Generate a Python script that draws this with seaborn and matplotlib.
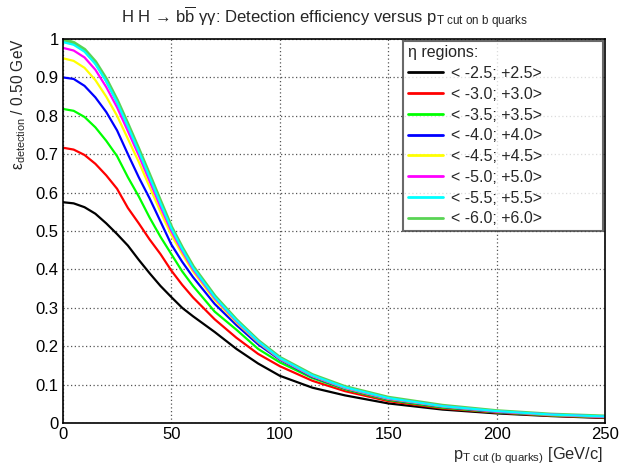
import numpy as np
import pandas as pd
import matplotlib
matplotlib.use("Agg")
import matplotlib.pyplot as plt
from matplotlib.ticker import MultipleLocator, FuncFormatter
import seaborn as sns

# ---- data ----
pt_cut = [0, 5, 10, 15, 20, 25, 30, 35, 40, 45, 50, 55, 60, 70, 80, 90, 100,
          115, 130, 150, 175, 200, 225, 250]

regions = ["< -2.5; +2.5>", "< -3.0; +3.0>", "< -3.5; +3.5>", "< -4.0; +4.0>",
           "< -4.5; +4.5>", "< -5.0; +5.0>", "< -5.5; +5.5>", "< -6.0; +6.0>"]

eff_25 = [0.575, 0.572, 0.562, 0.545, 0.520, 0.492, 0.462, 0.425, 0.390, 0.357, 0.328, 0.300,
          0.278, 0.237, 0.193, 0.155, 0.123, 0.092, 0.072, 0.051, 0.035, 0.025, 0.018, 0.013]
eff_30 = [0.717, 0.712, 0.698, 0.675, 0.645, 0.610, 0.560, 0.520, 0.478, 0.440, 0.397, 0.360,
          0.327, 0.270, 0.222, 0.180, 0.148, 0.110, 0.083, 0.057, 0.038, 0.027, 0.019, 0.014]
eff_35 = [0.818, 0.813, 0.797, 0.770, 0.735, 0.695, 0.640, 0.590, 0.535, 0.485, 0.440, 0.395,
          0.357, 0.290, 0.243, 0.193, 0.158, 0.117, 0.088, 0.060, 0.040, 0.028, 0.020, 0.015]
eff_40 = [0.900, 0.896, 0.878, 0.848, 0.810, 0.762, 0.700, 0.640, 0.585, 0.525, 0.465, 0.420,
          0.380, 0.310, 0.255, 0.205, 0.165, 0.120, 0.090, 0.062, 0.042, 0.029, 0.021, 0.016]
eff_45 = [0.950, 0.943, 0.925, 0.893, 0.850, 0.800, 0.740, 0.680, 0.615, 0.550, 0.490, 0.440,
          0.395, 0.320, 0.262, 0.210, 0.167, 0.122, 0.091, 0.063, 0.043, 0.030, 0.021, 0.016]
eff_50 = [0.977, 0.970, 0.952, 0.920, 0.875, 0.822, 0.760, 0.697, 0.630, 0.563, 0.500, 0.448,
          0.400, 0.325, 0.265, 0.212, 0.168, 0.123, 0.092, 0.064, 0.044, 0.030, 0.022, 0.016]
eff_55 = [0.992, 0.985, 0.967, 0.935, 0.890, 0.835, 0.772, 0.707, 0.640, 0.572, 0.507, 0.453,
          0.404, 0.328, 0.267, 0.213, 0.169, 0.124, 0.093, 0.065, 0.044, 0.031, 0.022, 0.017]
eff_60 = [0.998, 0.990, 0.972, 0.940, 0.895, 0.840, 0.777, 0.712, 0.645, 0.577, 0.510, 0.456,
          0.407, 0.330, 0.268, 0.214, 0.170, 0.125, 0.094, 0.066, 0.045, 0.031, 0.022, 0.017]

colors = ["#000000", "#ff0000", "#00ff00", "#0000ff",
          "#ffff00", "#ff00ff", "#00ffff", "#59d454"]

series = [eff_25, eff_30, eff_35, eff_40, eff_45, eff_50, eff_55, eff_60]
df = pd.concat([pd.DataFrame({"pT": pt_cut, "eff": s, "region": r})
                for s, r in zip(series, regions)], ignore_index=True)

# ---- styling ----
sns.set_theme(style="white")
plt.rcParams["font.family"] = ["Liberation Sans", "DejaVu Sans"]
plt.rcParams["mathtext.fontset"] = "custom"
plt.rcParams["mathtext.rm"] = "Liberation Sans"
plt.rcParams["mathtext.it"] = "Liberation Sans:italic"
plt.rcParams["mathtext.bf"] = "Liberation Sans:bold"

fig = plt.figure(figsize=(6.22, 4.70), dpi=100)
ax = fig.add_axes([0.101, 0.100, 0.872, 0.817])

sns.lineplot(data=df, x="pT", y="eff", hue="region", hue_order=regions,
             palette=colors, linewidth=1.6, legend=False, ax=ax, sort=False)
for ln, c in zip(ax.lines, colors):
    if c == "#59d454":
        ln.set_linewidth(2.8)
        ln.set_zorder(1.5)
    else:
        ln.set_zorder(2.5)

ax.set_xlim(0, 250)
ax.set_ylim(0, 1)
ax.xaxis.set_major_locator(MultipleLocator(50))
ax.xaxis.set_minor_locator(MultipleLocator(10))
ax.yaxis.set_major_locator(MultipleLocator(0.1))
ax.yaxis.set_minor_locator(MultipleLocator(0.02))
ax.xaxis.set_major_formatter(FuncFormatter(lambda v, p: f"{v:g}"))
ax.yaxis.set_major_formatter(FuncFormatter(lambda v, p: f"{round(v, 1):g}"))
ax.tick_params(axis="both", which="both", direction="in", top=False, right=False,
               labelsize=12, colors="black")
ax.tick_params(which="major", length=9, width=1)
ax.tick_params(which="minor", length=5, width=1)
ax.tick_params(axis="x", pad=3)
ax.tick_params(axis="y", pad=3)
for sp in ax.spines.values():
    sp.set_color("black")
    sp.set_linewidth(1.2)
ax.grid(True, which="major", linestyle=(0, (1, 2)), color="#555555", linewidth=0.9)
ax.set_axisbelow(True)
ax.set_xlabel("")
ax.set_ylabel("")

# axis titles
ax.text(0.995, -0.058, r"p$_{\mathrm{T\ cut\ (b\ quarks)}}$ [GeV/c]", transform=ax.transAxes,
        ha="right", va="top", fontsize=11.8)
fig.text(0.030, 0.918, r"ε$_{\mathrm{detection}}$ / 0.50 GeV", rotation=90,
         ha="center", va="top", fontsize=11.2)

# title
fig.text(0.195, 1 - 23 / 470,
         r"H H → b$\overline{\mathrm{b}}$ γγ: Detection efficiency versus p$_{\mathrm{T\ cut\ on\ b\ quarks}}$",
         ha="left", va="baseline", fontsize=12)

# legend
handles = list(ax.lines)
leg = ax.legend(handles, regions, title="η regions:", loc="upper left",
                bbox_to_anchor=(0.627, 0.0, 0.369, 0.996), mode="expand",
                fontsize=11.5, title_fontsize=11.5,
                frameon=True, fancybox=False, shadow=False, handlelength=2.2,
                handletextpad=0.5, labelspacing=0.36, borderpad=0.3,
                borderaxespad=0.0, alignment="left")
leg.get_frame().set_edgecolor("#444444")
leg.get_frame().set_linewidth(1.5)
for h in leg.legend_handles:
    h.set_linewidth(2.0)

fig.savefig("out.png", dpi=100, facecolor="white")
